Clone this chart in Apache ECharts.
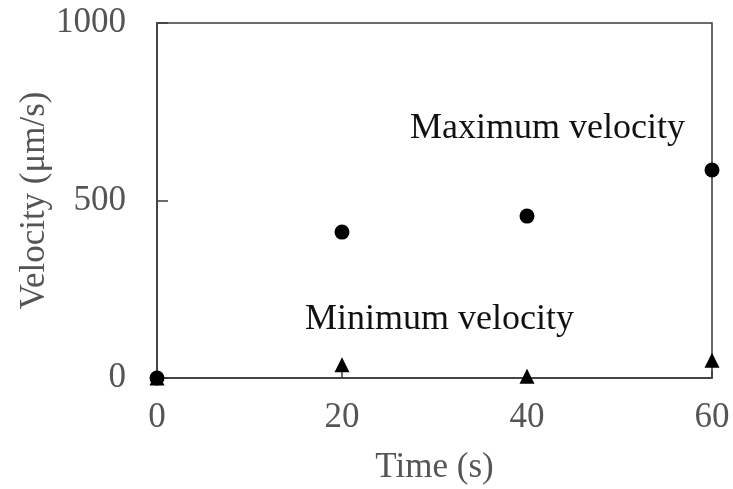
<!DOCTYPE html>
<html>
<head>
<meta charset="utf-8">
<script src="https://cdn.jsdelivr.net/npm/echarts@6/dist/echarts.min.js"></script>
<style>
  html, body { margin: 0; padding: 0; background: #fff; }
  #chart { width: 733px; height: 489px; }
</style>
</head>
<body>
<div id="chart"></div>
<script>
// time in seconds
const times = [0, 20, 40, 60]
// velocity values (um/s)
const maxVelocity = [0, 411, 456, 586]
const minVelocity = [0, 37, 5, 50]

const font = 'Liberation Serif'
const axisColor = '#3a3a3a'
const labelColor = '#555'

const chart = echarts.init(document.getElementById('chart'))

function pairs(xs, ys) {
  return xs.map((x, i) => [x, ys[i]])
}

const option = {
  animation: false,
  backgroundColor: '#fff',
  grid: {
    left: 157,
    right: 21,
    top: 23,
    bottom: 111,
    outerBoundsMode: 'none',
    containLabel: false,
    show: true,
    borderColor: axisColor,
    borderWidth: 1.5,
    backgroundColor: 'transparent'
  },
  xAxis: {
    type: 'value',
    min: 0,
    max: 60,
    interval: 20,
    name: 'Time (s)',
    nameLocation: 'middle',
    nameGap: 72,
    nameMoveOverlap: false,
    nameTextStyle: { fontFamily: font, fontSize: 35, color: labelColor },
    axisLine: { lineStyle: { color: axisColor, width: 1.5 } },
    axisTick: { inside: true, length: 8, lineStyle: { color: axisColor, width: 1.5 } },
    axisLabel: { fontFamily: font, fontSize: 35, color: labelColor, margin: 22 },
    splitLine: { show: false }
  },
  yAxis: {
    type: 'value',
    min: 0,
    max: 1000,
    interval: 500,
    name: 'Velocity (μm/s)',
    nameLocation: 'middle',
    nameGap: 105,
    nameMoveOverlap: false,
    nameTextStyle: { fontFamily: font, fontSize: 35, color: labelColor },
    axisLine: { lineStyle: { color: axisColor, width: 1.5 } },
    axisTick: { inside: true, length: 11, lineStyle: { color: axisColor, width: 1.5 } },
    axisLabel: {
      fontFamily: font,
      fontSize: 35,
      color: labelColor,
      margin: 31,
      formatter: v => String(v)
    },
    splitLine: { show: false }
  },
  graphic: [
    {
      type: 'text',
      left: 410,
      top: 111,
      style: { text: 'Maximum velocity', font: '36px "Liberation Serif"', fill: '#111' }
    },
    {
      type: 'text',
      left: 305,
      top: 302,
      style: { text: 'Minimum velocity', font: '36px "Liberation Serif"', fill: '#111' }
    }
  ],
  series: [
    {
      name: 'Maximum velocity',
      type: 'scatter',
      symbol: 'circle',
      symbolSize: 15,
      clip: false,
      itemStyle: { color: '#000', opacity: 1 },
      data: pairs(times, maxVelocity)
    },
    {
      name: 'Minimum velocity',
      type: 'scatter',
      symbol: 'triangle',
      symbolSize: 15,
      clip: false,
      itemStyle: { color: '#000', opacity: 1 },
      data: pairs(times, minVelocity)
    }
  ]
}

chart.setOption(option)
</script>
</body>
</html>
